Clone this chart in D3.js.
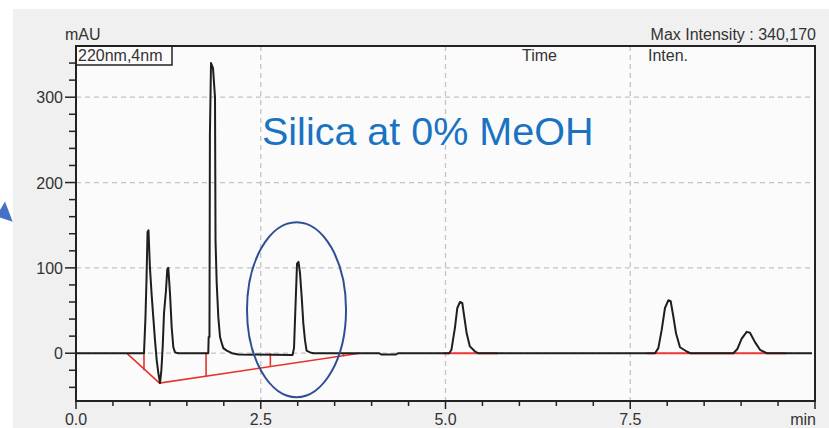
<!DOCTYPE html>
<html>
    <head>
        <title>chromatogram silica 0% MeOH</title>
        <script src="https://d3js.org/d3.v7.min.js"></script>
        <style>
            body{ margin:0; background:#ffffff; }
            text{ font-family: "Liberation Sans", Arial, sans-serif; fill:#333; }
        </style>
    </head>
    <body>
        <svg id="myCanvas" width="829" height="428"></svg>

        <script>
            // trace (tiempo en min, intensidad en mAU)
            const traceTime = [0.00, 0.92, 0.94, 0.954, 0.968, 0.981, 1.00, 1.024, 1.046, 1.069, 1.092, 1.114, 1.137, 1.155,
                1.173, 1.191, 1.218, 1.235, 1.249, 1.272, 1.295, 1.317, 1.34, 1.384,
                1.79, 1.795, 1.806, 1.812, 1.827, 1.854, 1.881, 1.888, 1.904, 1.926, 1.949, 1.972, 1.993, 2.04, 2.11, 2.2,
                2.93, 2.95, 2.968, 2.991, 3.011, 3.031, 3.054, 3.076, 3.099, 3.12, 3.167, 3.21,
                4.10, 4.13, 4.33, 4.36,
                5.05, 5.08, 5.128, 5.16, 5.196, 5.227, 5.255, 5.287, 5.33, 5.40, 5.44,
                7.835, 7.88, 7.925, 7.97, 8.015, 8.047, 8.083, 8.12, 8.173, 8.264, 8.31,
                8.895, 8.95, 9.008, 9.076, 9.12, 9.188, 9.256, 9.346, 9.96]
            const traceMAU = [0, 0, 42, 86, 142, 144, 101, 68, 42, 15, -8, -23, -35, -20,
                7, 47, 74, 98, 100, 70, 30, 7, 1, 0,
                0, 19, 19, 256, 340, 334, 300, 132, 82, 42, 19, 12, 6, 3, 0, -1.5,
                -2, 6, 50, 105, 107, 94, 66, 35, 15, 3, 1, 0,
                0, -1.5, -1.5, 0,
                0, 4, 30, 53, 60, 59, 42, 23, 8, 2, 0,
                0, 6, 27, 53, 62, 61, 43, 23, 7, 2, 0,
                0, 5, 17, 25, 24, 13, 4, 0, 0]

            // linea base de integracion (roja)
            const baseTime = [0.686, 1.13, 3.84]
            const baseMAU = [0, -35, 0]
            const flatStart = [4.97, 7.73]
            const flatEnd = [5.71, 9.61]
            const dropTime = [0.92, 1.76, 2.63, 3.62]
            const dropMAU = [-20, -27.5, -16, -3.5]

            // ejes
            const xTicks = [0.0, 2.5, 5.0, 7.5]
            const xTickLabels = ["0.0", "2.5", "5.0", "7.5"]
            const yTicks = [0, 100, 200, 300]

            svg = d3.select("#myCanvas")

            x = d3.scaleLinear([0, 10], [76, 815])
            y = d3.scaleLinear([-56, 360], [401, 46])

            // fondo gris y area blanca
            svg.append("rect").attr("x", 13).attr("y", 9).attr("width", 829 - 13).attr("height", 428 - 9).attr("fill", "#f0f0f0")
            svg.append("rect").attr("x", x(0)).attr("y", y(360)).attr("width", x(10) - x(0)).attr("height", y(-56) - y(360)).attr("fill", "#fbfbfb")

            // rejilla punteada
            svg.append("g").selectAll("line").data(xTicks.slice(1)).join("line")
                .attr("x1", d => x(d)).attr("x2", d => x(d)).attr("y1", y(360)).attr("y2", y(-56))
                .attr("stroke", "#c4c4c4").attr("stroke-width", 1.3).attr("stroke-dasharray", "5,4")
            svg.append("g").selectAll("line").data(yTicks).join("line")
                .attr("x1", x(0)).attr("x2", x(10)).attr("y1", d => y(d)).attr("y2", d => y(d))
                .attr("stroke", "#c4c4c4").attr("stroke-width", 1.3).attr("stroke-dasharray", "5,4")

            // marcas del eje y (cada 20 mAU)
            yMinor = d3.range(-40, 360, 20)
            svg.append("g").selectAll("line").data(yMinor).join("line")
                .attr("x1", d => x(0) - (d % 100 == 0 ? 11 : 7)).attr("x2", x(0))
                .attr("y1", d => y(d)).attr("y2", d => y(d))
                .attr("stroke", "#222").attr("stroke-width", 1.5)
            svg.append("g").selectAll("text").data(yTicks).join("text")
                .attr("x", x(0) - 13).attr("y", d => y(d) + 6)
                .attr("text-anchor", "end").attr("font-size", 16)
                .text(d => d)

            // marcas del eje x (cada 0.5 min)
            xMinor = d3.range(0, 10.01, 0.5)
            svg.append("g").selectAll("line").data(xMinor).join("line")
                .attr("x1", d => x(d)).attr("x2", d => x(d))
                .attr("y1", y(-56)).attr("y2", d => y(-56) + (d % 2.5 == 0 ? 8 : 5))
                .attr("stroke", "#222").attr("stroke-width", 1.5)
            svg.append("g").selectAll("text").data(xTicks).join("text")
                .attr("x", d => x(d)).attr("y", 425)
                .attr("text-anchor", "middle").attr("font-size", 16)
                .text((d, i) => xTickLabels[i])
            svg.append("text").attr("x", x(10) + 1).attr("y", 425).attr("text-anchor", "end").attr("font-size", 16).text("min")

            // linea base roja
            baseLine = d3.line().x(d => x(d[0])).y(d => y(d[1]))
            svg.append("path").datum(baseTime.map((t, i) => [t, baseMAU[i]]))
                .attr("d", baseLine).attr("fill", "none").attr("stroke", "#e8322c").attr("stroke-width", 1.6)
            svg.append("g").selectAll("line").data(flatStart).join("line")
                .attr("x1", d => x(d)).attr("x2", (d, i) => x(flatEnd[i]))
                .attr("y1", y(0)).attr("y2", y(0))
                .attr("stroke", "#ee3a36").attr("stroke-width", 2)
            svg.append("g").selectAll("line").data(dropTime).join("line")
                .attr("x1", d => x(d)).attr("x2", d => x(d))
                .attr("y1", y(0)).attr("y2", (d, i) => y(dropMAU[i]))
                .attr("stroke", "#e8322c").attr("stroke-width", 1.6)

            // cromatograma
            trace = d3.line().x(d => x(d[0])).y(d => y(d[1]))
            svg.append("path").datum(traceTime.map((t, i) => [t, traceMAU[i]]))
                .attr("d", trace).attr("fill", "none").attr("stroke", "#1e1e1e").attr("stroke-width", 2)
                .attr("stroke-linejoin", "round")

            // marco
            svg.append("rect").attr("x", x(0)).attr("y", y(360)).attr("width", x(10) - x(0)).attr("height", y(-56) - y(360))
                .attr("fill", "none").attr("stroke", "#222").attr("stroke-width", 2)

            // cajita de longitud de onda y textos
            svg.append("rect").attr("x", x(0)).attr("y", y(360)).attr("width", 96).attr("height", 19)
                .attr("fill", "none").attr("stroke", "#222").attr("stroke-width", 1.5)
            svg.append("text").attr("x", x(0) + 2).attr("y", y(360) + 15).attr("font-size", 16).text("220nm,4nm")
            svg.append("text").attr("x", 65).attr("y", 40).attr("font-size", 16).text("mAU")
            svg.append("text").attr("x", 816).attr("y", 40).attr("text-anchor", "end").attr("font-size", 16).text("Max Intensity : 340,170")
            svg.append("text").attr("x", 522).attr("y", 61).attr("font-size", 16).text("Time")
            svg.append("text").attr("x", 648).attr("y", 61).attr("font-size", 16).text("Inten.")

            // titulo azul
            svg.append("text").attr("x", 262).attr("y", 145).attr("font-size", 39.5)
                .style("fill", "#1a73c2").text("Silica at 0% MeOH")

            // elipse alrededor del pico de 3 min
            svg.append("ellipse").attr("cx", x(2.984)).attr("cy", y(51))
                .attr("rx", x(0.67) - x(0)).attr("ry", y(0) - y(102.6))
                .attr("fill", "none").attr("stroke", "#2f4f93").attr("stroke-width", 2)

            // triangulo azul cortado a la izquierda
            svg.append("polygon").attr("points", "0,210 5,201.5 12.7,221.7 0,217.5").attr("fill", "#4472c4")
        </script>
    </body>
</html>
